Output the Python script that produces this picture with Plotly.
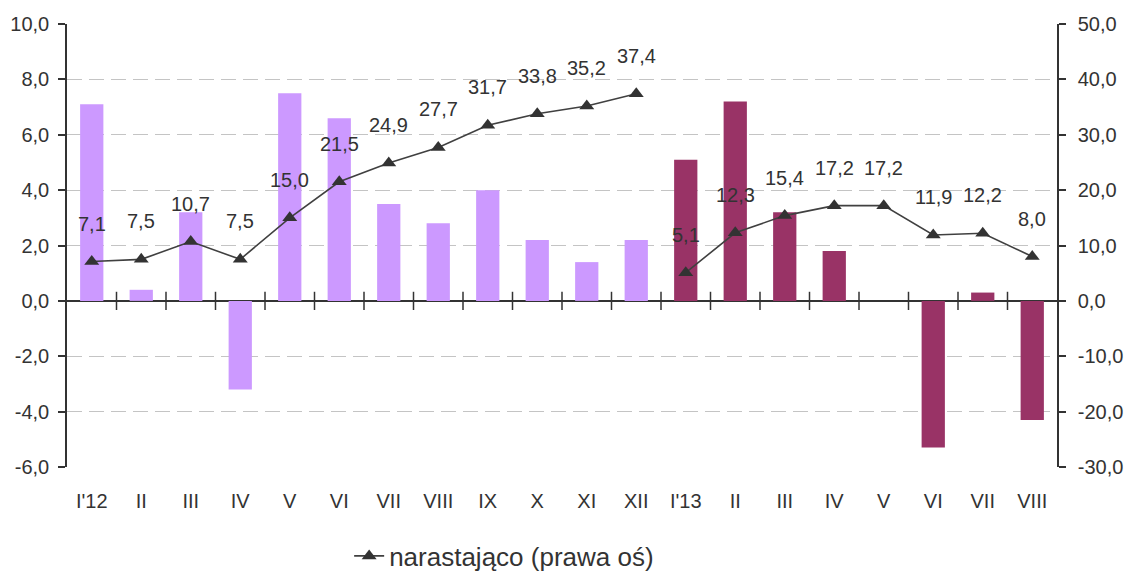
import plotly.graph_objects as go

# Monthly labels (2012 and 2013)
months = ["I'12", "II", "III", "IV", "V", "VI", "VII", "VIII", "IX", "X", "XI", "XII",
          "I'13", "II", "III", "IV", "V", "VI", "VII", "VIII"]
years = ["2012"] * 12 + ["2013"] * 8

# Monthly change (left axis)
monthly = [7.1, 0.4, 3.2, -3.2, 7.5, 6.6, 3.5, 2.8, 4.0, 2.2, 1.4, 2.2,
           5.1, 7.2, 3.2, 1.8, 0.0, -5.3, 0.3, -4.3]

# Cumulative change within each year (right axis)
cumulative = [7.1, 7.5, 10.7, 7.5, 15.0, 21.5, 24.9, 27.7, 31.7, 33.8, 35.2, 37.4,
              5.1, 12.3, 15.4, 17.2, 17.2, 11.9, 12.2, 8.0]

left_ticks = [-6, -4, -2, 0, 2, 4, 6, 8, 10]
right_ticks = [-30, -20, -10, 0, 10, 20, 30, 40, 50]

year_colors = {"2012": "#CC99FF", "2013": "#993366"}
TEXT = "#333333"
AXIS = "#333333"
FONT = "Liberation Sans, Arial, sans-serif"


def fmt(v):
    return f"{v:.1f}".replace(".", ",")


x_pos = list(range(len(months)))
boundaries = [i + 0.5 for i in range(len(months) - 1)]
x_range = [-0.5, len(months) - 0.5]

fig = go.Figure()

fig.add_trace(go.Bar(
    x=x_pos, y=monthly, width=0.47,
    marker=dict(color=[year_colors[y] for y in years], line=dict(width=0)),
    showlegend=False, hoverinfo="skip",
))

# category separator ticks crossing the zero line
fig.add_trace(go.Scatter(
    x=boundaries, y=[0] * len(boundaries), mode="markers",
    marker=dict(symbol="line-ns", size=13, line=dict(color=AXIS, width=1.5)),
    showlegend=False, hoverinfo="skip", cliponaxis=False,
))

# cumulative line, one segment per year
first = True
for yr in ["2012", "2013"]:
    idx = [i for i, y in enumerate(years) if y == yr]
    fig.add_trace(go.Scatter(
        x=[x_pos[i] for i in idx], y=[cumulative[i] for i in idx],
        yaxis="y2", mode="lines+markers",
        name="narastająco (prawa oś)",
        line=dict(color="#404040", width=1.6),
        marker=dict(symbol="triangle-up", size=13, color="#333333"),
        showlegend=first, legendgroup="cum",
    ))
    first = False

annotations = [
    dict(x=x_pos[i], y=cumulative[i], xref="x", yref="y2", text=fmt(cumulative[i]),
         showarrow=False, yanchor="bottom", yshift=25,
         font=dict(family=FONT, size=20, color=TEXT))
    for i in range(len(months))
]

fig.update_layout(
    width=1128, height=573,
    margin=dict(l=67, r=71, t=24, b=106),
    plot_bgcolor="white", paper_bgcolor="white",
    font=dict(family=FONT, size=20, color=TEXT),
    annotations=annotations,
    legend=dict(orientation="h", x=0.285, xanchor="left", yref="container",
                y=(573 - 556) / 573, yanchor="middle",
                font=dict(family=FONT, size=26, color=TEXT), bgcolor="rgba(0,0,0,0)"),
    xaxis=dict(range=x_range, tickvals=x_pos, ticktext=months, showgrid=False,
               showline=False, zeroline=False, ticks="", ticklabelstandoff=20,
               automargin=False),
    yaxis=dict(range=[left_ticks[0], left_ticks[-1]], tickvals=left_ticks,
               ticktext=[fmt(v) for v in left_ticks],
               showgrid=True, gridcolor="#c4c4c4", gridwidth=1.2, griddash="15px,7px",
               showline=True, linecolor=AXIS, linewidth=1.5, ticks="outside",
               ticklen=7, tickwidth=1.5, tickcolor=AXIS,
               zeroline=True, zerolinecolor=AXIS, zerolinewidth=1.6,
               ticklabelstandoff=5, automargin=False),
    yaxis2=dict(overlaying="y", side="right", range=[right_ticks[0], right_ticks[-1]],
                tickvals=right_ticks, ticktext=[fmt(v) for v in right_ticks],
                showgrid=False, showline=True, linecolor=AXIS, linewidth=1.5,
                ticks="outside", ticklen=7, tickwidth=1.5, tickcolor=AXIS,
                zeroline=False, ticklabelstandoff=8, automargin=False),
)

fig.write_html("out.html")
